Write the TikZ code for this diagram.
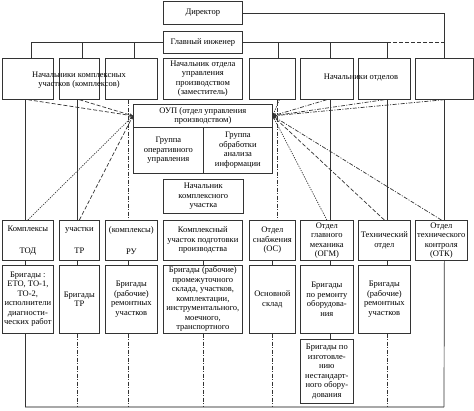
\documentclass[tikz,border=0pt]{standalone}
\usepackage{fontspec}
\setmainfont{Liberation Serif}
\usetikzlibrary{arrows.meta}
\definecolor{lc}{HTML}{333333}
\definecolor{buscol}{HTML}{A8A8A8}
\newcommand\fs{\fontsize{8.5}{9.5}\selectfont}
\newcommand\bxn[6]{\node[bx, minimum width={#4pt-#2pt}, minimum height={#5pt-#3pt}] (#1) at (#2,#3) {#6};}
\begin{document}
\begin{tikzpicture}[x=1pt,y=-1pt,
  bx/.style={draw=lc, line width=0.7pt, anchor=north west, inner sep=0pt, align=center, font=\fs, text=black},
  ln/.style={draw=lc, line width=0.7pt},
  dd/.style={ln, dash pattern=on 4pt off 1.5pt on 1pt off 1.5pt},
  dsh/.style={ln, dash pattern=on 4pt off 2pt},
  dt/.style={ln, dash pattern=on 1.2pt off 1.2pt},
  arr/.style={-{Stealth[length=3.5pt,width=3pt]}},
  lbl/.style={font=\fs, align=center, inner sep=0pt, text=black}]
\useasboundingbox (0,0) rectangle (474,410);
% bus
\coordinate (busL) at (25,407);
\coordinate (busR) at (444,407);
\draw[buscol, line width=2.5pt] (busL) -- (busR);
% top
\bxn{dir}{163}{1}{242}{24}{Директор}
\bxn{ce}{163}{31}{242}{53}{Главный инженер}
\bxn{t1}{2}{58}{53}{99}{}
\bxn{t2}{59}{58}{99}{99}{}
\bxn{t3}{105}{58}{157}{99}{}
\bxn{t4}{163}{58}{242}{99}{Начальник отдела\\управления\\производством\\(заместитель)}
\bxn{t5}{249}{58}{295}{99}{}
\bxn{t6}{300}{58}{353}{99}{}
\bxn{t7}{358}{58}{410}{99}{}
\bxn{t8}{415}{58}{473}{99}{}
\node[lbl] (la) at (79,80) {Начальники комплексных\\участков (комплексов)};
\node[lbl] (lb) at (361,78) {Начальники отделов};
% OUP
\bxn{oup}{133}{104}{272}{127}{ОУП (отдел управления\\производством)}
\bxn{g1}{133}{127}{203}{173}{Группа\\оперативного\\управления}
\bxn{g2}{203}{127}{272}{173}{Группа\\обработки\\анализа\\информации}
\bxn{nku}{163}{179}{243}{213}{Начальник\\комплексного\\участка}
% bottom row
\bxn{b1}{2}{220}{53}{260}{Комплексы\\[12.5pt]ТОД}
\bxn{b2}{59}{220}{99}{260}{участки\\[12.5pt]ТР}
\bxn{b3}{105}{220}{157}{260}{(комплексы)\\[12.5pt]РУ}
\bxn{b4}{163}{220}{242}{260}{Комплексный\\участок подготовки\\производства}
\bxn{b5}{249}{220}{295}{260}{Отдел\\снабжения\\(ОС)}
\bxn{b6}{300}{220}{353}{260}{Отдел\\главного\\механика\\(ОГМ)}
\bxn{b7}{358}{220}{410}{260}{Технический\\отдел}
\bxn{b8}{415}{220}{467}{260}{Отдел\\технического\\контроля\\(ОТК)}
% brigades
\bxn{r1}{2}{265}{53}{333}{Бригады :\\ЕТО, ТО-1,\\ТО-2,\\исполнители\\диагности-\\ческих работ}
\bxn{r2}{59}{265}{99}{333}{Бригады\\ТР}
\bxn{r3}{105}{265}{157}{333}{Бригады\\(рабочие)\\ремонтных\\участков}
\bxn{r4}{163}{265}{242}{333}{Бригады (рабочие)\\промежуточного\\склада, участков,\\комплектации,\\инструментального,\\моечного,\\транспортного}
\bxn{r5}{249}{265}{295}{333}{Основной\\склад}
\bxn{r6}{300}{265}{353}{333}{Бригады\\по ремонту\\оборудова-\\ния}
\bxn{r7}{358}{265}{410}{333}{Бригады\\(рабочие)\\ремонтных\\участков}
\bxn{ex}{300}{339}{353}{403}{Бригады по\\изготовле-\\нию\\нестандарт-\\ного обору-\\дования}
% director and chief engineer lines
\draw[ln] (dir.east) -| (t8.north);
\draw[ln] (ce.west) -| ([xshift=3pt]t1.north);
\coordinate (ceR) at ([xshift=3pt]t7.north |- ce.east);
\draw[ln] (ce.east) -- (ceR);
\draw[dsh] (ceR) -- (ce.east -| t8.north);
\draw[ln] ([xshift=3pt]t2.north |- ce.west) -- ([xshift=3pt]t2.north);
\draw[ln] ([xshift=3pt]t3.north |- ce.west) -- ([xshift=3pt]t3.north);
\draw[ln] ([xshift=6pt]t5.north |- ce.east) -- ([xshift=6pt]t5.north);
\draw[ln] ([xshift=3.5pt]t6.north |- ce.east) -- ([xshift=3.5pt]t6.north);
\draw[ln] (ceR) -- ([xshift=3pt]t7.north);
% top -> bottom rows
\draw[ln] ([xshift=-2.5pt]t1.south) -- ([xshift=-2.5pt]b1.north);
\draw[ln] ([xshift=-2pt]t2.south) -- ([xshift=-2pt]b2.north);
\draw[dd, line width=1pt] ([xshift=-3pt]t3.south) -- ([xshift=-3pt]b3.north);
\draw[dd] ([xshift=5pt]t5.south) -- ([xshift=5pt]b5.north);
\draw[ln] ([xshift=3.5pt]t6.south) -- ([xshift=3.5pt]b6.north);
\draw[ln] ([xshift=3pt]t7.south) -- ([xshift=3pt]b7.north);
\draw[ln] (t8.south) -- (t8.south |- b8.north);
% row -> brigades
\draw[ln] ([xshift=-2.5pt]b1.south) -- ([xshift=-2.5pt]r1.north);
\draw[ln] ([xshift=-2pt]b2.south) -- ([xshift=-2pt]r2.north);
\draw[ln] ([xshift=-3pt]b3.south) -- ([xshift=-3pt]r3.north);
\draw[ln] (b4.south) -- (r4.north);
\draw[ln] (b5.south) -- (r5.north);
\draw[ln] ([xshift=3.5pt]b6.south) -- ([xshift=3.5pt]r6.north);
\draw[ln] ([xshift=3pt]b7.south) -- ([xshift=3pt]r7.north);
% brigades -> bus
\draw[ln] ([xshift=-2.5pt]r1.south) -- ([xshift=-2.5pt]r1.south |- busL);
\draw[dd] ([xshift=-2pt]r2.south) -- ([xshift=-2pt]r2.south |- busL);
\draw[dd] ([xshift=-3pt]r3.south) -- ([xshift=-3pt]r3.south |- busL);
\draw[dd] (r4.south) -- (r4.south |- busL);
\draw[dd] (r5.south) -- (r5.south |- busL);
\draw[ln] ([xshift=3.5pt]r6.south) -- ([xshift=3.5pt]ex.north);
\draw[dd] ([xshift=3pt]r7.south) -- ([xshift=3pt]r7.south |- busL);
\draw[ln] (t8.south |- b8.south) -- (busR);
% convergence to OUP
\draw[dsh, arr] (t1.south) -- (oup.west);
\draw[dsh, arr] (t2.south) -- (oup.west);
\draw[dt, arr] (b1.north) -- (oup.west);
\draw[dsh, arr] (b2.north) -- (oup.west);
\draw[dt, arr] ([xshift=7pt]t5.south) -- (oup.east);
\draw[dd, arr] (t6.south) -- (oup.east);
\draw[dd, arr] (t7.south) -- (oup.east);
\draw[dd, arr] (t8.south) -- (oup.east);
\draw[dt, arr] (b6.north) -- (oup.east);
\draw[dsh, arr] (b7.north) -- (oup.east);
\draw[dd, arr] (b8.north) -- (oup.east);
\end{tikzpicture}
\end{document}
